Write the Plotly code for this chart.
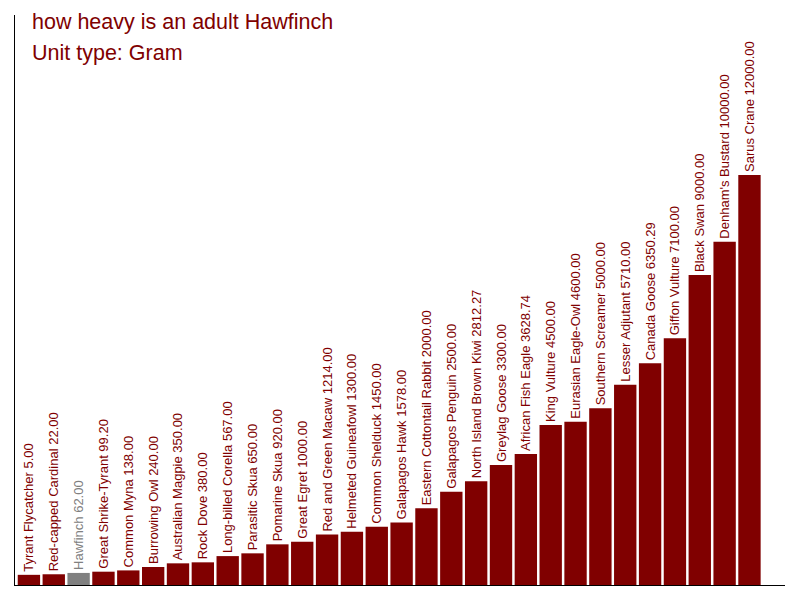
import plotly.graph_objects as go

# bird weights in grams
birds = [
    "Tyrant Flycatcher", "Red-capped Cardinal", "Hawfinch", "Great Shrike-Tyrant",
    "Common Myna", "Burrowing Owl", "Australian Magpie", "Rock Dove",
    "Long-billed Corella", "Parasitic Skua", "Pomarine Skua", "Great Egret",
    "Red and Green Macaw", "Helmeted Guineafowl", "Common Shelduck", "Galapagos Hawk",
    "Eastern Cottontail Rabbit", "Galapagos Penguin", "North Island Brown Kiwi",
    "Greylag Goose", "African Fish Eagle", "King Vulture", "Eurasian Eagle-Owl",
    "Southern Screamer", "Lesser Adjutant", "Canada Goose", "Giffon Vulture",
    "Black Swan", "Denham's Bustard", "Sarus Crane",
]
weights = [
    5.00, 22.00, 62.00, 99.20, 138.00, 240.00, 350.00, 380.00, 567.00, 650.00,
    920.00, 1000.00, 1214.00, 1300.00, 1450.00, 1578.00, 2000.00, 2500.00, 2812.27,
    3300.00, 3628.74, 4500.00, 4600.00, 5000.00, 5710.00, 6350.29, 7100.00,
    9000.00, 10000.00, 12000.00,
]
highlight = "Hawfinch"

dark_red = "#800000"
grey = "#808080"
font_family = "Arial, Liberation Sans, sans-serif"

# bars start a little below zero so even tiny birds get a visible stub
floor = -300
colors = [grey if b == highlight else dark_red for b in birds]
labels = [f"{b} {w:.2f}" for b, w in zip(birds, weights)]

fig = go.Figure(go.Bar(
    x=list(range(len(birds))),
    y=[w - floor for w in weights],
    base=floor,
    marker=dict(color=colors, line=dict(width=0)),
    width=0.9,
    text=labels,
    textposition="outside",
    textangle=-90,
    textfont=dict(family=font_family, size=13, color=colors),
    constraintext="none",
    cliponaxis=False,
    hoverinfo="skip",
))

# page body has an 8px margin, so the figure is trimmed and shifted to fit
fig.update_layout(
    width=792, height=592,
    margin=dict(l=7, r=15, t=7, b=15, autoexpand=False),
    plot_bgcolor="white", paper_bgcolor="white",
    showlegend=False,
    font=dict(family=font_family),
    xaxis=dict(range=[-0.56, 30.43], showgrid=False, zeroline=False,
               showticklabels=False, ticks="", showline=True,
               linecolor="black", linewidth=1),
    yaxis=dict(range=[floor, 16800], showgrid=False, zeroline=False,
               showticklabels=False, ticks="", showline=True,
               linecolor="black", linewidth=1),
)

# titles placed in pixel terms inside the plot area
for txt, ypx in [("how heavy is an adult Hawfinch", 22), ("Unit type: Gram", 53)]:
    fig.add_annotation(
        text=txt, xref="paper", yref="paper",
        x=(30 - 15) / 770, y=1 - (ypx - 15) / 570,
        xanchor="left", yanchor="middle", showarrow=False,
        font=dict(size=21.5, color=dark_red, family=font_family),
    )

fig.write_html("out.html")
